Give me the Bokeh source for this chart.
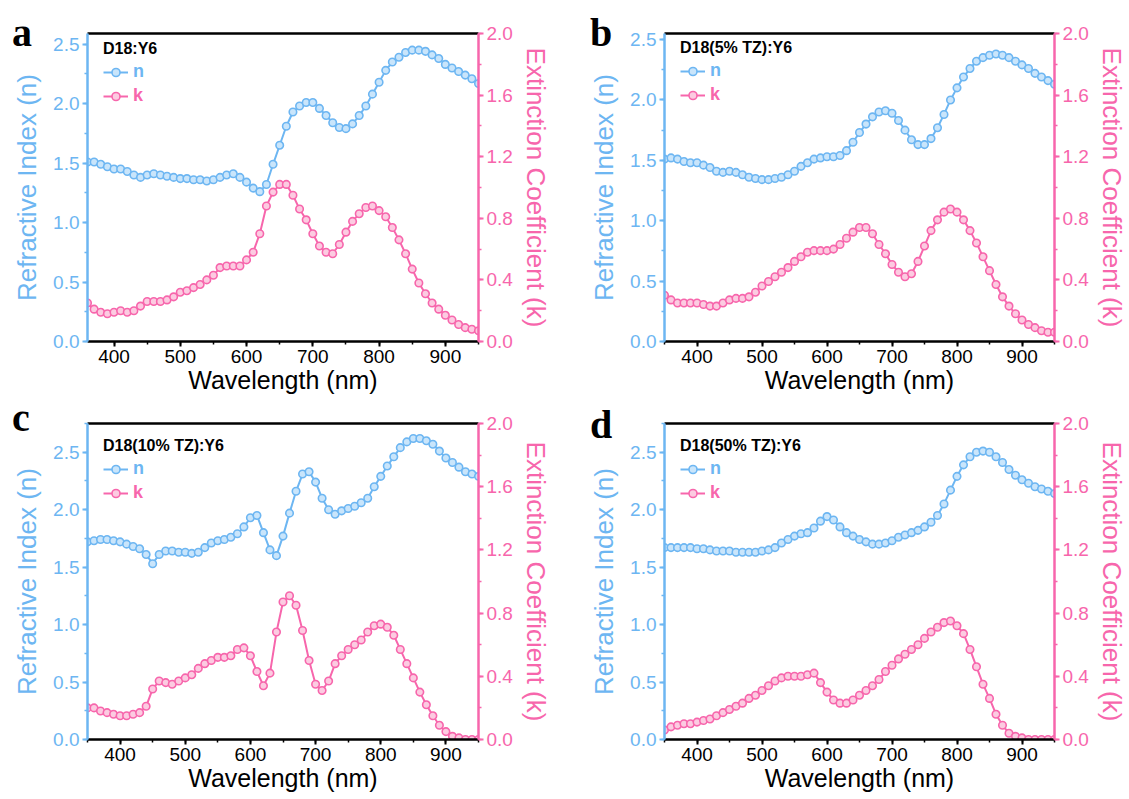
from bokeh.plotting import figure
from bokeh.models import (Range1d, LinearAxis, SingleIntervalTicker, NumeralTickFormatter,
                          Legend, LegendItem, FixedTicker, GridBox, Div)
from bokeh.embed import file_html
from bokeh.resources import INLINE

BLUE = "#6DB6F2"
PINK = "#F766AC"
BLUE_FILL = "#C9E5FB"
PINK_FILL = "#FCCBE1"

# ---------------- data (wavelength in nm) ----------------
wl_a = list(range(360, 951, 10))
wl_bcd = list(range(350, 951, 10))

n_a = [1.51, 1.51, 1.49, 1.47, 1.45, 1.45, 1.43, 1.40, 1.38, 1.40,
       1.41, 1.40, 1.39, 1.38, 1.37, 1.37, 1.36, 1.36, 1.35, 1.36,
       1.38, 1.40, 1.41, 1.38, 1.34, 1.29, 1.26, 1.32, 1.49, 1.65,
       1.81, 1.93, 1.98, 2.01, 2.01, 1.96, 1.90, 1.84, 1.80, 1.79,
       1.83, 1.90, 1.98, 2.08, 2.18, 2.28, 2.35, 2.39, 2.43, 2.45,
       2.45, 2.44, 2.41, 2.38, 2.33, 2.30, 2.27, 2.24, 2.21, 2.17]
k_a = [0.25, 0.21, 0.19, 0.18, 0.19, 0.20, 0.19, 0.20, 0.23, 0.26,
       0.26, 0.26, 0.27, 0.29, 0.32, 0.33, 0.35, 0.37, 0.40, 0.43,
       0.48, 0.49, 0.49, 0.49, 0.53, 0.58, 0.70, 0.88, 0.97, 1.02,
       1.02, 0.95, 0.86, 0.79, 0.70, 0.62, 0.58, 0.57, 0.63, 0.71,
       0.78, 0.83, 0.87, 0.88, 0.85, 0.81, 0.74, 0.66, 0.57, 0.47,
       0.38, 0.31, 0.25, 0.21, 0.17, 0.14, 0.11, 0.09, 0.08, 0.07]

n_b = [1.51, 1.52, 1.51, 1.49, 1.48, 1.48, 1.46, 1.44, 1.41, 1.40,
       1.41, 1.40, 1.38, 1.36, 1.35, 1.34, 1.34, 1.35, 1.36, 1.38,
       1.41, 1.45, 1.48, 1.51, 1.52, 1.53, 1.53, 1.54, 1.58, 1.65,
       1.73, 1.80, 1.86, 1.90, 1.91, 1.89, 1.83, 1.75, 1.67, 1.63,
       1.63, 1.68, 1.77, 1.88, 2.00, 2.10, 2.19, 2.26, 2.32, 2.35,
       2.37, 2.38, 2.37, 2.35, 2.32, 2.29, 2.26, 2.22, 2.19, 2.16,
       2.13]
k_b = [0.30, 0.27, 0.25, 0.25, 0.25, 0.25, 0.24, 0.23, 0.23, 0.25,
       0.27, 0.28, 0.28, 0.29, 0.32, 0.36, 0.39, 0.42, 0.45, 0.48,
       0.52, 0.55, 0.58, 0.59, 0.59, 0.59, 0.60, 0.63, 0.67, 0.71,
       0.74, 0.74, 0.70, 0.63, 0.57, 0.50, 0.45, 0.42, 0.44, 0.52,
       0.62, 0.72, 0.79, 0.84, 0.86, 0.84, 0.79, 0.72, 0.64, 0.55,
       0.46, 0.37, 0.29, 0.23, 0.18, 0.14, 0.11, 0.09, 0.07, 0.06,
       0.06]

n_c = [1.72, 1.73, 1.74, 1.74, 1.73, 1.72, 1.70, 1.68, 1.66, 1.61,
       1.53, 1.61, 1.64, 1.64, 1.63, 1.63, 1.62, 1.63, 1.67, 1.71,
       1.73, 1.74, 1.76, 1.79, 1.85, 1.93, 1.95, 1.80, 1.65, 1.60,
       1.77, 1.97, 2.16, 2.31, 2.33, 2.24, 2.10, 2.00, 1.96, 1.99,
       2.01, 2.03, 2.06, 2.10, 2.20, 2.29, 2.38, 2.46, 2.54, 2.59,
       2.62, 2.62, 2.60, 2.57, 2.51, 2.45, 2.41, 2.37, 2.33, 2.31,
       2.29]
k_c = [0.20, 0.20, 0.18, 0.17, 0.16, 0.15, 0.15, 0.16, 0.17, 0.21,
       0.32, 0.37, 0.36, 0.35, 0.37, 0.39, 0.41, 0.45, 0.48, 0.50,
       0.52, 0.52, 0.53, 0.57, 0.58, 0.53, 0.43, 0.34, 0.42, 0.68,
       0.87, 0.91, 0.85, 0.69, 0.50, 0.35, 0.31, 0.37, 0.48, 0.53,
       0.57, 0.60, 0.63, 0.68, 0.72, 0.73, 0.71, 0.66, 0.57, 0.48,
       0.39, 0.30, 0.22, 0.15, 0.09, 0.05, 0.02, 0.01, 0.00, 0.00,
       0.00]

n_d = [1.67, 1.67, 1.67, 1.67, 1.67, 1.66, 1.66, 1.65, 1.64, 1.64,
       1.64, 1.63, 1.63, 1.63, 1.63, 1.64, 1.65, 1.67, 1.71, 1.74,
       1.77, 1.79, 1.80, 1.84, 1.90, 1.94, 1.91, 1.85, 1.80, 1.77,
       1.74, 1.72, 1.70, 1.70, 1.71, 1.73, 1.76, 1.78, 1.80, 1.82,
       1.85, 1.89, 1.95, 2.05, 2.17, 2.29, 2.39, 2.46, 2.50, 2.51,
       2.50, 2.46, 2.41, 2.35, 2.30, 2.26, 2.23, 2.20, 2.18, 2.16,
       2.14]
k_d = [0.06, 0.08, 0.09, 0.10, 0.10, 0.11, 0.12, 0.13, 0.15, 0.17,
       0.19, 0.21, 0.23, 0.26, 0.28, 0.31, 0.34, 0.37, 0.39, 0.40,
       0.40, 0.40, 0.41, 0.42, 0.36, 0.30, 0.25, 0.23, 0.23, 0.25,
       0.28, 0.31, 0.34, 0.38, 0.43, 0.47, 0.51, 0.54, 0.57, 0.60,
       0.64, 0.68, 0.71, 0.74, 0.75, 0.72, 0.67, 0.57, 0.46, 0.35,
       0.26, 0.16, 0.09, 0.04, 0.02, 0.01, 0.00, 0.00, 0.00, 0.00,
       0.00]

titles = ["D18:Y6", "D18(5% TZ):Y6", "D18(10% TZ):Y6", "D18(50% TZ):Y6"]
letters = ["a", "b", "c", "d"]

SANS = "Liberation Sans"


def style_axis(ax, color, label, size):
    ax.axis_label = label
    ax.axis_label_text_font = SANS
    ax.axis_label_text_font_style = "normal"
    ax.axis_label_text_font_size = size
    ax.axis_label_text_color = color
    ax.major_label_text_font = SANS
    ax.major_label_text_font_size = "19px"
    ax.major_label_text_color = color
    ax.axis_line_color = color
    ax.axis_line_width = 2.5
    ax.major_tick_line_color = color
    ax.minor_tick_line_color = color
    ax.major_tick_line_width = 2
    ax.minor_tick_line_width = 1.5
    ax.major_tick_out = 5
    ax.major_tick_in = 0
    ax.minor_tick_out = 3
    ax.minor_tick_in = 0
    ax.major_label_standoff = 3


def panel(title, wl, n, k, xmin, nmax, w, h, bl, br, bt, bb):
    p = figure(width=w, height=h, x_range=Range1d(xmin, 950), y_range=Range1d(0, nmax),
               output_backend="svg", toolbar_location=None,
               min_border_left=bl, min_border_right=br, min_border_top=bt, min_border_bottom=bb)
    p.extra_y_ranges = {"k": Range1d(0, 2.0)}
    p.grid.visible = False
    p.outline_line_color = None
    p.background_fill_color = "white"
    p.border_fill_color = "white"

    xa = p.xaxis[0]
    style_axis(xa, "black", "Wavelength (nm)", "25px")
    xa.ticker = SingleIntervalTicker(interval=100, num_minor_ticks=2)
    xa.axis_label_standoff = 0

    ya = p.yaxis[0]
    style_axis(ya, BLUE, "Refractive Index (n)", "26px")
    ya.ticker = SingleIntervalTicker(interval=0.5, num_minor_ticks=2)
    ya.formatter = NumeralTickFormatter(format="0.0")
    ya.axis_label_standoff = 8

    ra = LinearAxis(y_range_name="k")
    style_axis(ra, PINK, "Extinction Coefficient (k)", "26px")
    ra.ticker = SingleIntervalTicker(interval=0.4, num_minor_ticks=2)
    ra.formatter = NumeralTickFormatter(format="0.0")
    ra.axis_label_standoff = 5
    p.add_layout(ra, "right")

    top = LinearAxis(ticker=FixedTicker(ticks=[]))
    top.axis_line_color = "black"
    top.axis_line_width = 2.5
    top.major_tick_line_color = None
    top.minor_tick_line_color = None
    top.major_tick_out = 0
    top.minor_tick_out = 0
    p.add_layout(top, "above")

    ln = p.line(wl, n, line_color=BLUE, line_width=2)
    sn = p.scatter(wl, n, marker="circle", size=7.5, fill_color=BLUE_FILL,
                   line_color=BLUE, line_width=1.6)
    lk = p.line(wl, k, line_color=PINK, line_width=2, y_range_name="k")
    sk = p.scatter(wl, k, marker="circle", size=7.5, fill_color=PINK_FILL,
                   line_color=PINK, line_width=1.6, y_range_name="k")

    fh = h - bt - bb
    common = dict(padding=0, margin=0, spacing=0, border_line_color=None,
                  background_fill_alpha=0, glyph_width=25, glyph_height=20,
                  label_height=20, label_standoff=5,
                  label_text_font=SANS, label_text_font_size="18px",
                  label_text_font_style="bold")
    leg_n = Legend(items=[LegendItem(label="n", renderers=[ln, sn])],
                   location=(16, fh - 56), title=title,
                   title_text_font=SANS, title_text_font_style="bold",
                   title_text_font_size="16px", title_text_color="black",
                   title_standoff=3, label_text_color=BLUE, **common)
    leg_k = Legend(items=[LegendItem(label="k", renderers=[lk, sk])],
                   location=(16, fh - 80), label_text_color=PINK, **common)
    p.add_layout(leg_n, "center")
    p.add_layout(leg_k, "center")
    return p


def letter_div(ch, top, left):
    html = ('<div style="font-family:\'Liberation Serif\',serif;font-weight:bold;'
            'font-size:40px;line-height:40px;color:black;">%s</div>' % ch)
    return Div(text=html, width=40, height=44, margin=(top, 0, 0, left), align="start",
               styles={"font-family": "Liberation Serif", "font-weight": "bold",
                       "font-size": "40px", "line-height": "40px", "color": "black"})


pa = panel(titles[0], wl_a, n_a, k_a, 360, 2.59, 570, 408, 87, 92, 26, 67)
pb = panel(titles[1], wl_bcd, n_b, k_b, 350, 2.55, 559, 408, 94, 74, 33, 59)
pc = panel(titles[2], wl_bcd, n_c, k_c, 350, 2.75, 570, 391, 87, 92, 15, 60)
pd_ = panel(titles[3], wl_bcd, n_d, k_d, 350, 2.75, 559, 391, 94, 75, 15, 60)

da = letter_div(letters[0], 13, 12)
db = letter_div(letters[1], 13, 20)
dc = letter_div(letters[2], -10, 12)
dd = letter_div(letters[3], -3, 20)

layout = GridBox(children=[(pa, 0, 0), (pb, 0, 1), (pc, 1, 0), (pd_, 1, 1),
                           (da, 0, 0), (db, 0, 1), (dc, 1, 0), (dd, 1, 1)],
                 spacing=0)
open("out.html", "w").write(file_html(layout, INLINE))
